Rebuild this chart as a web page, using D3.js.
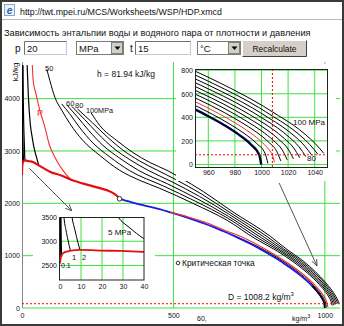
<!DOCTYPE html>
<html><head><meta charset="utf-8">
<script src="https://cdn.jsdelivr.net/npm/d3@7"></script>
<style>
html,body{margin:0;padding:0;background:#fff;}
svg{display:block;font-family:Arial,"Liberation Sans",sans-serif;}
</style></head>
<body><svg id="c" width="344" height="326"></svg>
<script>
// ---------- data (density kg/m3, enthalpy kJ/kg) ----------
const currentP = 20, currentT = 15;
const currentD = 1008.2, currentH = 81.94;

const satVapor = [[0.02,2540],[0.2,2620],[0.8,2716],[1.6,2755],[3.2,2784],[5.15,2805],[9.5,2820],[15,2815],[19,2808],[28.6,2800],[39.5,2780],[55.5,2725],[92,2605],[130,2530],[171,2430],[200,2380],[257,2290],[285,2240],[305,2180],[316,2130],[322,2087]];
const satLiquid = [[322,2087],[360,2025],[400,1965],[450,1893],[490,1827],[528,1761],[574.7,1671],[610.7,1595],[640.5,1526],[667.4,1462],[712.1,1345],[750.3,1237],[784,1135],[813.5,1038],[840.3,944],[864.7,852],[887,763],[917,632],[958.4,419],[971.8,335],[983.2,251],[992.2,167.5],[998.2,84],[999.8,0]];
const criticalPoint = [322,2087];

const p01Vapor = [[0.17,4640],[0.22,4160],[0.28,3488],[0.38,3074],[0.46,2875],[0.52,2776],[0.59,2680]];
const p1Vapor  = [[1.2,4640],[1.5,4000],[1.9,3500],[2.8,3240],[3.8,3025],[4.9,2810]];
const p2Vapor  = [[3.4,4640],[4.3,4000],[5.7,3500],[7.1,3232],[8.6,2964],[9.5,2820]];
const p5Vapor  = [[17,4640],[21,4050],[27.6,3500],[33.3,3273],[39.5,3067],[45.5,2930],[55.5,2725]];
const p20Vapor = [[34,4640],[37,4343],[46,4095],[59,3771],[76,3448],[89,3143],[109,2876],[135,2629],[158,2476],[171,2430]];
const p20Liquid = [[490,1827],[549,1740],[600.6,1646],[667,1490],[734.8,1333],[815,1086],[877.5,860],[927.9,644],[967.5,434],[980.4,351],[991.7,268],[1000.7,185],[1007.1,103],[1008.2,82],[1009.7,20]];
const p01Liquid = [[958.4,419],[971.8,335],[983.2,251],[992.2,167.5],[998.2,84],[999.8,0]];
const p10Liquid = [[688.7,1408],[715.7,1343],[806,1087],[871.6,856],[922.5,638],[963,426.4],[976.1,342.8],[987.5,259.3],[996.5,176.3],[1002.7,93.3],[1004.8,10]];
const p30Liquid = [[885.1,864],[933.2,650],[971.9,441.2],[984.7,358.4],[996,275.9],[1004.9,193.9],[1011.4,111.9],[1014.5,30]];
const p40Liquid = [[891.7,868],[938.5,656],[976.4,448.6],[988.9,366.2],[1000.1,284.2],[1009,202.7],[1015.7,121.2],[1019.3,40]];
const p50  = [[82,4560],[92,4343],[109,4019],[132,3771],[158,3524],[201,3200],[257,2914],[323,2629],[389,2438],[455,2286],[564,2000],[677,1676],[770,1325],[842,1090],[898.2,872],[943.7,662],[980.7,456],[993,374],[1004.2,292.5],[1013.1,211.5],[1020,130.5],[1024,48]];
const p60  = [[131,3900],[157,3714],[189,3459],[234,3154],[290,2887],[354,2629],[468,2328],[571,2044],[680,1713],[780,1334],[848,1100],[904.7,876],[948.8,668],[985,463],[997.1,382],[1008.2,301],[1017.2,220],[1024.2,140],[1028.7,58]];
const p70  = [[148,3880],[182,3657],[220,3394],[267,3108],[323,2861],[385,2629],[481,2370],[578,2088],[682,1750],[790,1343],[853,1110],[911.1,880],[953.9,674],[989.3,471],[1001.1,390],[1012.2,309],[1021.1,229],[1028.3,149],[1033.3,67]];
const p80  = [[165,3850],[207,3600],[251,3330],[300,3063],[356,2834],[417,2629],[495,2411],[586,2132],[685,1786],[800,1352],[859,1120],[917.4,884],[958.9,680],[993.4,478],[1005.1,397],[1016.1,317],[1025.1,238],[1032.4,158],[1037.9,77]];
const p90  = [[183,3805],[232,3543],[282,3265],[333,3017],[389,2807],[448,2629],[508,2453],[593,2176],[687,1823],[810,1361],[864,1130],[923.6,888],[963.8,686],[997.6,486],[1009,405],[1020,326],[1029,247],[1036.4,168],[1042.4,86]];
const p100 = [[228,3730],[257,3486],[313,3200],[366,2971],[422,2781],[479,2629],[521,2495],[600,2220],[690,1860],[820,1370],[870,1140],[929.7,892],[968.7,692],[1001.6,493],[1012.9,413],[1023.9,334],[1032.8,256],[1040.4,177],[1046.8,95]];

const mainXTicks = [0,500,1000];
const mainYTicks = [0,1000,2000,3000,4000];
const insetAXTicks = [960,980,1000,1020,1040];
const insetAYTicks = [0,200,400,600,800];
const insetBXTicks = [0,10,20,30,40];
const insetBYTicks = [2500,3000,3500];
const arrows = [[[24,2670],[165,1853]],[[849,2388],[974,802]]];

// ---------- setup ----------
const svg = d3.select("#c");
const GREEN = "#3fe03f";
svg.append("rect").attr("width",344).attr("height",326).attr("fill","#fff");
function fit(sel, w){ const l = sel.node().getComputedTextLength(); const fs = parseFloat(sel.attr("font-size")); sel.attr("font-size", (fs*w/l).toFixed(2)); return sel; }

// ---------- header ----------
svg.append("rect").attr("x",4.5).attr("y",4.5).attr("width",10).attr("height",11).attr("fill","#eef3fa").attr("stroke","#8ea4c0");
svg.append("text").attr("x",9.5).attr("y",13.5).attr("text-anchor","middle").attr("font-size",10).attr("font-weight","bold").attr("font-style","italic").attr("fill","#1f62c9").text("e");
fit(svg.append("text").attr("x",20).attr("y",14.5).attr("font-size",9).attr("fill","#111").text("http://twt.mpei.ru/MCS/Worksheets/WSP/HDP.xmcd"),202);
svg.append("line").attr("x1",1).attr("x2",343).attr("y1",19.5).attr("y2",19.5).attr("stroke","#b8b8b8");
fit(svg.append("text").attr("x",4).attr("y",35.5).attr("font-size",9).attr("fill","#111").text("Зависимость энтальпии воды и водяного пара от плотности и давления"),307);

function inputBox(x0,x1,txt){
  svg.append("rect").attr("x",x0+0.5).attr("y",41.5).attr("width",x1-x0).attr("height",13).attr("fill","#fff").attr("stroke","#c8c8c8");
  svg.append("path").attr("d",`M${x0+0.5},54.5V41.5H${x1+0.5}`).attr("fill","none").attr("stroke","#707070");
  svg.append("text").attr("x",x0+3).attr("y",52).attr("font-size",9.5).attr("fill","#111").text(txt);
}
function selectBox(x0,x1,txt){
  svg.append("rect").attr("x",x0+0.5).attr("y",41.5).attr("width",x1-x0).attr("height",13).attr("fill","#fff").attr("stroke","#7a7a7a");
  svg.append("rect").attr("x",x1-11.5).attr("y",42.5).attr("width",11).attr("height",11).attr("fill","#d4d0c8").attr("stroke","#808080");
  svg.append("path").attr("d",`M${x1-8.5},46.5h6l-3,3.5z`).attr("fill","#000");
  svg.append("text").attr("x",x0+3).attr("y",52).attr("font-size",9.5).attr("fill","#111").text(txt);
}
svg.append("text").attr("x",15).attr("y",51.5).attr("font-size",10).attr("fill","#111").text("p");
inputBox(24,66,String(currentP));
selectBox(76,123,"MPa");
svg.append("text").attr("x",130).attr("y",51.5).attr("font-size",10).attr("fill","#111").text("t");
inputBox(135,190,String(currentT));
selectBox(197,240,"°C");
svg.append("rect").attr("x",242.5).attr("y",40.5).attr("width",64).attr("height",16).attr("fill","#d4d0c8");
svg.append("path").attr("d","M242.5,56.5V40.5H306.5").attr("fill","none").attr("stroke","#fff");
svg.append("path").attr("d","M242.5,56.5H306.5V40.5").attr("fill","none").attr("stroke","#404040");
fit(svg.append("text").attr("x",274.5).attr("y",52).attr("text-anchor","middle").attr("font-size",9).attr("fill","#111").text("Recalculate"),44);

// ---------- main chart ----------
const x = d3.scaleLinear().domain([0,1050]).range([22,340]);
const y = d3.scaleLinear().domain([0,4700]).range([308,62]);
const line = (sx,sy)=>d3.line().x(d=>sx(d[0])).y(d=>sy(d[1])).curve(d3.curveMonotoneX);
const mline = line(x,y);

svg.append("defs").html(`
 <clipPath id="cm"><rect x="22" y="60" width="319" height="249"/></clipPath>
 <clipPath id="ca"><rect x="195" y="69" width="133" height="99"/></clipPath>
 <clipPath id="cb"><rect x="60" y="217" width="84" height="63"/></clipPath>
 <marker id="ar" viewBox="0 -5 10 10" refX="10" refY="0" markerUnits="userSpaceOnUse" markerWidth="7" markerHeight="7" orient="auto">
  <path d="M0,-4L10,0L0,4" fill="none" stroke="#444" stroke-width="1.2"/></marker>`);

const gm = svg.append("g");
gm.selectAll(".hg").data(mainYTicks).join("line").attr("x1",x(0)).attr("x2",340).attr("y1",d=>y(d)).attr("y2",d=>y(d)).attr("stroke",GREEN);
gm.selectAll(".vg").data(mainXTicks.filter(d=>d>0)).join("line").attr("y1",y(0)).attr("y2",y(4700)).attr("x1",d=>x(d)).attr("x2",d=>x(d)).attr("stroke",GREEN);
gm.append("line").attr("x1",22.5).attr("x2",22.5).attr("y1",62).attr("y2",308).attr("stroke","#888");

const gax = gm.append("g").attr("transform","translate(22,0)").call(d3.axisLeft(y).tickValues(mainYTicks).tickSize(0).tickPadding(2).tickFormat(d3.format("d")));
const gbx = gm.append("g").attr("transform","translate(0,308)").call(d3.axisBottom(x).tickValues(mainXTicks).tickSize(0).tickPadding(5).tickFormat(d3.format("d")));
[gax,gbx].forEach(g=>{g.select(".domain").remove(); g.selectAll("text").attr("font-size",7).attr("font-family","Arial,Liberation Sans,sans-serif").attr("fill","#111");});
gm.append("text").attr("x",197).attr("y",320.5).attr("font-size",7).attr("fill","#111").text("60,");
const ku = gm.append("text").attr("x",292).attr("y",320.5).attr("font-size",7).attr("fill","#111").text("kg/m");
ku.append("tspan").attr("dy",-3).attr("font-size",5.5).text("3");
gm.append("text").attr("transform","translate(17.5,72) rotate(-90)").attr("text-anchor","middle").attr("font-size",8).attr("fill","#111").text("kJ/kg");

const curves = gm.append("g").attr("clip-path","url(#cm)").attr("fill","none");
[p01Vapor,p1Vapor,p2Vapor,p5Vapor].forEach((d,i)=>curves.append("path").attr("d",mline(d)).attr("stroke","#000").attr("stroke-width",i===0?1.8:1.2));
[p50,p60,p70,p80,p90,p100].forEach(d=>curves.append("path").attr("d",mline(d)).attr("stroke","#000").attr("stroke-width",1));
curves.append("path").attr("d",mline(p10Liquid)).attr("stroke","#000").attr("stroke-width",1);
curves.append("path").attr("d",mline(satLiquid)).attr("stroke","#1a1ae6").attr("stroke-width",1.8);
curves.append("path").attr("d",mline(p01Liquid)).attr("stroke","#000").attr("stroke-width",1.4);
curves.append("path").attr("d",mline(p20Liquid)).attr("stroke","#f03030").attr("stroke-width",1.1);
curves.append("path").attr("d",mline(p20Vapor)).attr("stroke","#f03030").attr("stroke-width",1.1);
curves.append("path").attr("d",mline(satVapor)).attr("stroke","#e01010").attr("stroke-width",2.2);
gm.append("line").attr("x1",x(0)).attr("x2",340).attr("y1",y(currentH)).attr("y2",y(currentH)).attr("stroke","#f00").attr("stroke-dasharray","2,2");
gm.append("circle").attr("cx",x(criticalPoint[0])).attr("cy",y(criticalPoint[1])).attr("r",2.3).attr("fill","#fff").attr("stroke","#333");

gm.append("text").attr("x",97).attr("y",76.5).attr("font-size",8.5).attr("fill","#111").text("h = " + currentH + " kJ/kg");
gm.append("text").attr("x",37).attr("y",116).attr("font-size",9).attr("fill","#f03030").text("P");
gm.append("text").attr("x",45).attr("y",70.5).attr("font-size",7.5).attr("fill","#111").text("50");
gm.append("text").attr("x",66).attr("y",105.5).attr("font-size",7.5).attr("fill","#111").text("60");
gm.append("text").attr("x",75).attr("y",108).attr("font-size",7.5).attr("fill","#111").text("80");
fit(gm.append("text").attr("x",86).attr("y",112.5).attr("font-size",7).attr("fill","#111").text("100MPa"),27);
gm.append("circle").attr("cx",178).attr("cy",263).attr("r",1.8).attr("fill","#fff").attr("stroke","#333");
fit(gm.append("text").attr("x",182).attr("y",266).attr("font-size",8.5).attr("fill","#111").text("Критическая точка"),73);
const dt = gm.append("text").attr("x",228).attr("y",300).attr("font-size",8.5).attr("fill","#111").text("D = " + currentD + " kg/m");
dt.append("tspan").attr("dy",-4).attr("font-size",6).text("3");

// ---------- inset A (top right) ----------
const ix = d3.scaleLinear().domain([950,1050]).range([195,328]);
const iy = d3.scaleLinear().domain([-30,810]).range([168,69]);
const aline = line(ix,iy);
const ga = svg.append("g");
ga.append("rect").attr("x",176).attr("y",64).attr("width",160).attr("height",117).attr("fill","#fff");
const gag = ga.append("g").attr("clip-path","url(#ca)");
gag.selectAll(".v").data(insetAXTicks).join("line").attr("x1",d=>ix(d)).attr("x2",d=>ix(d)).attr("y1",69).attr("y2",168).attr("stroke",GREEN);
gag.selectAll(".h").data(insetAYTicks).join("line").attr("y1",d=>iy(d)).attr("y2",d=>iy(d)).attr("x1",195).attr("x2",328).attr("stroke",GREEN);
const ac = gag.append("g").attr("fill","none");
[p10Liquid,p30Liquid,p40Liquid,p50,p60,p70,p80,p90,p100].forEach(d=>ac.append("path").attr("d",aline(d)).attr("stroke","#000").attr("stroke-width",1));
ac.append("path").attr("d",aline(satLiquid)).attr("stroke","#00003a").attr("stroke-width",2.4);
ac.append("path").attr("d",aline(p20Liquid)).attr("stroke","#f03030").attr("stroke-width",1);
gag.append("line").attr("x1",ix(currentD)).attr("x2",ix(currentD)).attr("y1",69).attr("y2",168).attr("stroke","#f00").attr("stroke-dasharray","2,2");
gag.append("line").attr("x1",195).attr("x2",328).attr("y1",iy(currentH)).attr("y2",iy(currentH)).attr("stroke","#f00").attr("stroke-dasharray","2,2");
ga.append("rect").attr("x",195.5).attr("y",69.5).attr("width",132).attr("height",98).attr("fill","none").attr("stroke","#222");
const aax = ga.append("g").attr("transform","translate(195,0)").call(d3.axisLeft(iy).tickValues(insetAYTicks).tickSize(0).tickPadding(2));
const abx = ga.append("g").attr("transform","translate(0,168)").call(d3.axisBottom(ix).tickValues(insetAXTicks).tickSize(0).tickPadding(2).tickFormat(d3.format("d")));
[aax,abx].forEach(g=>{g.select(".domain").remove(); g.selectAll("text").attr("font-size",7).attr("font-family","Arial,Liberation Sans,sans-serif").attr("fill","#111");});
ga.append("text").attr("x",293).attr("y",125).attr("font-size",8).attr("fill","#111").text("100 MPa");
ga.append("text").attr("x",307).attr("y",161).attr("font-size",8).attr("fill","#111").text("80");

// ---------- inset B (bottom left) ----------
const bx = d3.scaleLinear().domain([0,40]).range([60,144]);
const by = d3.scaleLinear().domain([2200,3500]).range([280,217]);
const bline = line(bx,by);
const gb = svg.append("g");
gb.append("rect").attr("x",33).attr("y",210).attr("width",122).attr("height",85).attr("fill","#fff");
const gbg = gb.append("g").attr("clip-path","url(#cb)");
gbg.selectAll(".v").data([10,20,30]).join("line").attr("x1",d=>bx(d)).attr("x2",d=>bx(d)).attr("y1",217).attr("y2",280).attr("stroke",GREEN);
gbg.selectAll(".h").data([2500,3000]).join("line").attr("y1",d=>by(d)).attr("y2",d=>by(d)).attr("x1",60).attr("x2",144).attr("stroke",GREEN);
const bc = gbg.append("g").attr("fill","none");
bc.append("path").attr("d",bline(p01Vapor)).attr("stroke","#000").attr("stroke-width",2);
[p1Vapor,p2Vapor,p5Vapor].forEach(d=>bc.append("path").attr("d",bline(d)).attr("stroke","#000").attr("stroke-width",1));
bc.append("path").attr("d",bline(satVapor)).attr("stroke","#e01010").attr("stroke-width",1.8);
gb.append("rect").attr("x",59.5).attr("y",217.5).attr("width",84.5).attr("height",62.5).attr("fill","none").attr("stroke","#222");
const bax = gb.append("g").attr("transform","translate(59,0)").call(d3.axisLeft(by).tickValues(insetBYTicks).tickSize(0).tickPadding(2).tickFormat(d3.format("d")));
const bbx = gb.append("g").attr("transform","translate(0,280)").call(d3.axisBottom(bx).tickValues(insetBXTicks).tickSize(0).tickPadding(4));
[bax,bbx].forEach(g=>{g.select(".domain").remove(); g.selectAll("text").attr("font-size",7).attr("font-family","Arial,Liberation Sans,sans-serif").attr("fill","#111");});
gb.append("text").attr("x",61).attr("y",267.5).attr("font-size",7).attr("fill","#111").text("0.1");
gb.append("text").attr("x",72).attr("y",259.5).attr("font-size",7.5).attr("fill","#111").text("1");
gb.append("text").attr("x",82).attr("y",259.5).attr("font-size",7.5).attr("fill","#111").text("2");
gb.append("text").attr("x",108).attr("y",235).attr("font-size",8).attr("fill","#111").text("5 MPa");

// ---------- arrows ----------
svg.selectAll(".arrow").data(arrows).join("line")
  .attr("x1",d=>x(d[0][0])).attr("y1",d=>y(d[0][1])).attr("x2",d=>x(d[1][0])).attr("y2",d=>y(d[1][1]))
  .attr("stroke","#555").attr("stroke-width",1).attr("marker-end","url(#ar)");

// outer frame
svg.append("rect").attr("x",1).attr("y",1).attr("width",342).attr("height",324).attr("fill","none").attr("stroke","#3a3a3a").attr("stroke-width",2);
</script>
</body></html>
